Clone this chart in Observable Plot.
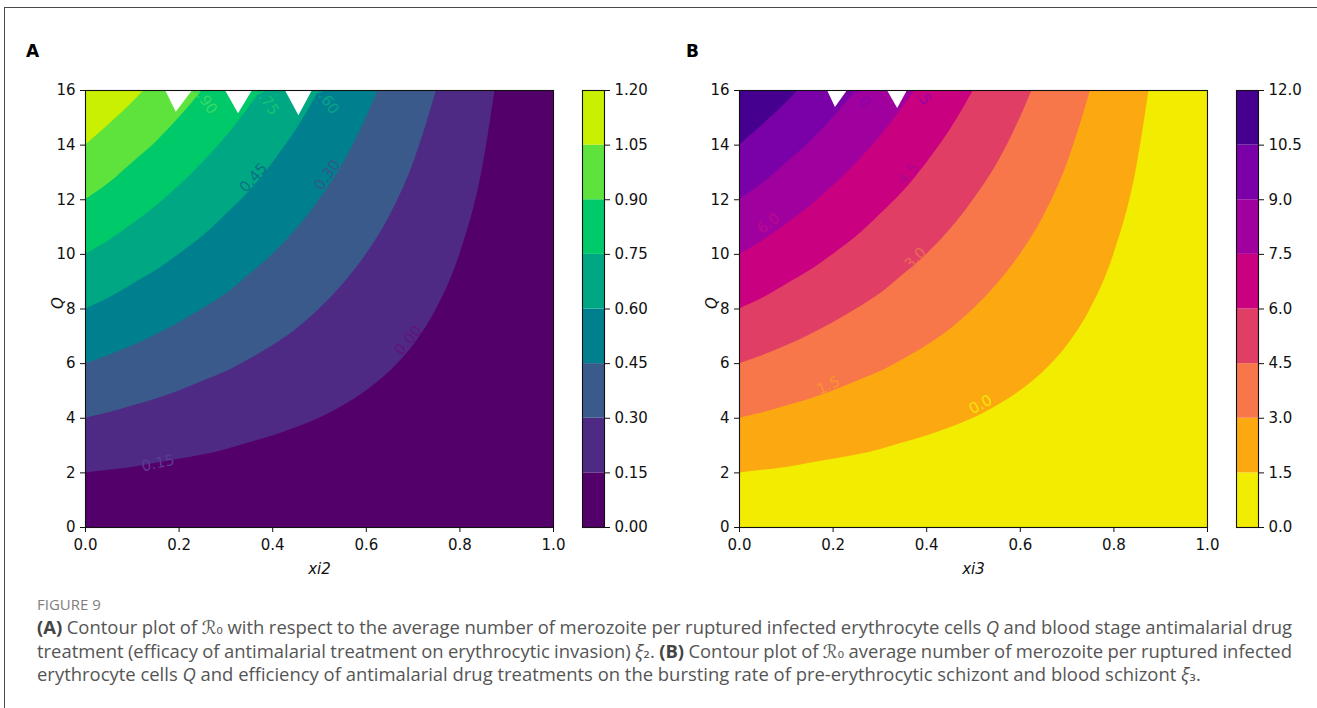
<!DOCTYPE html>
<html>
<head>
<meta charset="utf-8">
<script src="https://cdn.jsdelivr.net/npm/d3@7"></script>
<script src="https://cdn.jsdelivr.net/npm/@observablehq/plot@0.6"></script>
<style>
  body { margin: 0; background: #fff; }
  #page { position: relative; width: 1317px; height: 708px; overflow: hidden; background: #fff; }
  #border { position: absolute; left: 4px; top: 7px; width: 1400px; height: 800px;
            border-left: 1.5px solid #4a4a4a; border-top: 1.5px solid #4a4a4a; }
  .letter { position: absolute; font: bold 17px "DejaVu Sans", sans-serif; color: #000; }
  .holder { position: absolute; top: 0; }
  .holder svg { background: transparent !important; }
  #caption { position: absolute; left: 37px; top: 0; font-family: "Open Sans", sans-serif; color: #555; }
  #caption .ln { position: absolute; left: 0; white-space: nowrap; line-height: 24px; }
  #caption b { color: #444; font-weight: 700; }
  #caption .fig { font-size: 15px; color: #808080; }
  .scr { font-family: "DejaVu Serif", "DejaVu Sans", serif; font-style: italic; }
  .sb { font-family: "DejaVu Sans", sans-serif; font-size: 90%; }
</style>
</head>
<body>
<div id="page">
  <div id="border"></div>
  <div class="letter" style="left:26px; top:41px;">A</div>
  <div class="letter" style="left:686px; top:41px;">B</div>
  <div class="holder" id="mainA" style="left:0px;"></div>
  <div class="holder" id="barA" style="left:582px;"></div>
  <div class="holder" id="mainB" style="left:654px;"></div>
  <div class="holder" id="barB" style="left:1236px;"></div>
  <div id="caption">
    <div class="ln fig" style="top:592px;">FIGURE 9</div>
    <div class="ln j" style="top:615px;"><b>(A)</b> Contour plot of <span class="scr">ℛ</span><span class="sb">₀</span> with respect to the average number of merozoite per ruptured infected erythrocyte cells <i>Q</i> and blood stage antimalarial drug</div>
    <div class="ln j" style="top:639px;">treatment (efficacy of antimalarial treatment on erythrocytic invasion) <i>ξ</i><span class="sb">₂</span>. <b>(B)</b> Contour plot of <span class="scr">ℛ</span><span class="sb">₀</span> average number of merozoite per ruptured infected</div>
    <div class="ln" id="line3" style="top:662px;">erythrocyte cells <i>Q</i> and efficiency of antimalarial drug treatments on the bursting rate of pre-erythrocytic schizont and blood schizont <i>ξ</i><span class="sb">₃</span>.</div>
  </div>
</div>
<script>
// ---------- data ----------
const xiDomain = [0, 1];
const qDomain = [0, 16];
const xiTicks = [0, 0.2, 0.4, 0.6, 0.8, 1.0];
const qTicks = [0, 2, 4, 6, 8, 10, 12, 14, 16];

// contour levels and fill colours
const levelsA = [0, 0.15, 0.30, 0.45, 0.60, 0.75, 0.90, 1.05, 1.20];
const colorsA = ["#54006a", "#4e2a85", "#3a5a8c", "#00808e", "#00a783", "#00c96a", "#5ee33c", "#c8f000"];
const levelsB = [0, 1.5, 3.0, 4.5, 6.0, 7.5, 9.0, 10.5, 12.0];
const colorsB = ["#f2ec00", "#fca811", "#f7774a", "#e03e65", "#c9007f", "#a0009e", "#7a00a8", "#45008f"];

// band boundaries (same geometry in both panels): Q read at these xi steps
const xiSteps = [0, 0.05, 0.1, 0.15, 0.2, 0.25, 0.3, 0.35, 0.4, 0.45, 0.5, 0.55, 0.6, 0.65, 0.7, 0.75, 0.8, 0.85];
const boundaryQ = [
  [2.0, 2.1, 2.2, 2.35, 2.5, 2.65, 2.85, 3.1, 3.35, 3.65, 4.0, 4.45, 5.0, 5.7, 6.65, 8.0, 10.0, 13.3],
  [4.0, 4.2, 4.45, 4.7, 5.0, 5.35, 5.7, 6.15, 6.65, 7.25, 8.0, 8.9, 10.0, 11.4, 13.3],
  [6.0, 6.3, 6.65, 7.05, 7.5, 8.0, 8.55, 9.25, 10.0, 10.9, 12.0, 13.3, 15.0],
  [8.0, 8.4, 8.9, 9.4, 10.0, 10.65, 11.45, 12.3, 13.35, 14.55],
  [10.0, 10.5, 11.1, 11.75, 12.5, 13.35, 14.3, 15.4],
  [12.0, 12.6, 13.35, 14.1, 15.0],
  [14.0, 14.75, 15.55]
];
// xi where each boundary leaves through the top edge (Q = 16)
const boundaryEndXi = [0.875, 0.75, 0.625, 0.5, 0.375, 0.25, 0.125];

// white notches at the top edge (left edge, tip, right edge, tip Q)
const notchesA = [
  {left: 0.171, tip: 0.194, right: 0.229, tipQ: 15.2},
  {left: 0.299, tip: 0.327, right: 0.357, tipQ: 15.15},
  {left: 0.427, tip: 0.456, right: 0.485, tipQ: 15.08}
];
const notchesB = [
  {left: 0.188, tip: 0.205, right: 0.231, tipQ: 15.38},
  {left: 0.316, tip: 0.338, right: 0.359, tipQ: 15.34}
];

// inline contour labels
const labelsA = [
  {xi: 0.155, q: 2.35, text: "0.15", rotate: -12, color: "#5d3a94"},
  {xi: 0.69, q: 6.85, text: "0.00", rotate: -50, color: "#62127a"},
  {xi: 0.359, q: 12.8, text: "0.45", rotate: -48, color: "#0a7088"},
  {xi: 0.517, q: 12.9, text: "0.30", rotate: -55, color: "#36568c"}
];
const topLabelsA = [
  {xi: 0.274, q: 15.19, text: "0.90", rotate: 55, color: "#3ad866"},
  {xi: 0.406, q: 15.16, text: "0.75", rotate: 55, color: "#18c274"},
  {xi: 0.534, q: 15.19, text: "0.60", rotate: 55, color: "#08a28a"}
];
const labelsB = [
  {xi: 0.062, q: 11.13, text: "6.0", rotate: -36, color: "#bb0a90"},
  {xi: 0.36, q: 12.95, text: "4.5", rotate: -49, color: "#b0058f"},
  {xi: 0.376, q: 9.85, text: "3.0", rotate: -45, color: "#ec6a55"},
  {xi: 0.19, q: 5.2, text: "1.5", rotate: -25, color: "#f99530"},
  {xi: 0.515, q: 4.5, text: "0.0", rotate: -29, color: "#f4e40a"}
];
const topLabelsB = [
  {xi: 0.273, q: 15.45, text: "9.0", rotate: 55, color: "#8a00aa"},
  {xi: 0.402, q: 15.52, text: "7.5", rotate: 55, color: "#9a00a6"}
];

// ---------- drawing ----------
const FONT = '"DejaVu Sans", sans-serif';

function mainPanel(colors, notches, labels, topLabels, xLabel) {
  const marks = [Plot.frame({fill: colors[0], stroke: null})];
  boundaryQ.forEach((qs, i) => {
    const pts = qs.map((q, j) => ({xi: xiSteps[j], q}))
      .concat([{xi: boundaryEndXi[i], q: qDomain[1]}]);
    marks.push(Plot.areaY(pts, {x: "xi", y1: "q", y2: qDomain[1], fill: colors[i + 1], curve: "monotone-x"}));
  });
  const notchPts = notches.flatMap((n, i) => [
    {xi: n.left, q: qDomain[1], id: i},
    {xi: n.tip, q: n.tipQ, id: i},
    {xi: n.right, q: qDomain[1], id: i}
  ]);
  marks.push(Plot.areaY(notchPts, {x: "xi", y1: "q", y2: qDomain[1], z: "id", fill: "white", curve: "linear"}));
  marks.push(Plot.text(labels, {x: "xi", y: "q", text: "text", rotate: "rotate", fill: "color", fontSize: 15, clip: true}));
  marks.push(Plot.text(topLabels, {x: "xi", y: "q", text: "text", rotate: "rotate", fill: "color", fontSize: 15, textAnchor: "end", clip: true}));
  marks.push(Plot.frame({stroke: "#111", strokeWidth: 1.1}));
  marks.push(Plot.axisX({ticks: xiTicks, tickFormat: d3.format(".1f"), tickSize: 5, tickPadding: 7, label: null, stroke: "#111"}));
  marks.push(Plot.axisY({ticks: qTicks, tickFormat: d3.format("d"), tickSize: 5, tickPadding: 5, label: null, stroke: "#111"}));
  marks.push(Plot.text([xLabel], {frameAnchor: "bottom", dy: 46, fontStyle: "italic", fontSize: 15, fill: "#111"}));
  marks.push(Plot.text(["Q"], {frameAnchor: "left", dx: -27, rotate: -90, fontStyle: "italic", fontSize: 15, fill: "#111"}));
  return Plot.plot({
    width: 570, height: 600,
    marginLeft: 85, marginRight: 17, marginTop: 90, marginBottom: 73,
    x: {domain: xiDomain},
    y: {domain: qDomain},
    color: {type: "identity"},
    style: {fontFamily: FONT, fontSize: "15px", color: "#111", background: "transparent", overflow: "visible"},
    marks
  });
}

function colorBar(levels, colors, fmt) {
  const bands = colors.map((c, i) => ({lo: levels[i], hi: levels[i + 1], color: c}));
  return Plot.plot({
    width: 72, height: 600,
    marginLeft: 0, marginRight: 50, marginTop: 90, marginBottom: 73,
    x: {axis: null, domain: [0, 1]},
    y: {domain: [levels[0], levels[levels.length - 1]], axis: null},
    color: {type: "identity"},
    style: {fontFamily: FONT, fontSize: "15px", color: "#111", background: "transparent", overflow: "visible"},
    marks: [
      Plot.rect(bands, {y1: "lo", y2: "hi", fill: "color"}),
      Plot.frame({stroke: "#111", strokeWidth: 1.1}),
      Plot.axisY({anchor: "right", ticks: levels, tickFormat: d3.format(fmt), tickSize: 5, tickPadding: 5, label: null, stroke: "#111"})
    ]
  });
}

document.getElementById("mainA").append(mainPanel(colorsA, notchesA, labelsA, topLabelsA, "xi2"));
document.getElementById("barA").append(colorBar(levelsA, colorsA, ".2f"));
document.getElementById("mainB").append(mainPanel(colorsB, notchesB, labelsB, topLabelsB, "xi3"));
document.getElementById("barB").append(colorBar(levelsB, colorsB, ".1f"));

// caption: fit font so the last (unjustified) line ends where it does in the figure,
// then justify the full lines by adjusting word spacing
(function fitCaption() {
  const cap = document.getElementById("caption");
  const l3 = document.getElementById("line3");
  let fs = 16;
  cap.style.fontSize = fs + "px";
  const w = l3.getBoundingClientRect().width;
  fs = fs * 1165 / w;
  cap.style.fontSize = fs.toFixed(2) + "px";
  const target = 1255;
  document.querySelectorAll("#caption .j").forEach(el => {
    el.style.wordSpacing = "0px";
    const nat = el.getBoundingClientRect().width;
    const spaces = (el.textContent.match(/ /g) || []).length;
    el.style.wordSpacing = ((target - nat) / spaces).toFixed(3) + "px";
  });
})();
</script>
</body>
</html>
